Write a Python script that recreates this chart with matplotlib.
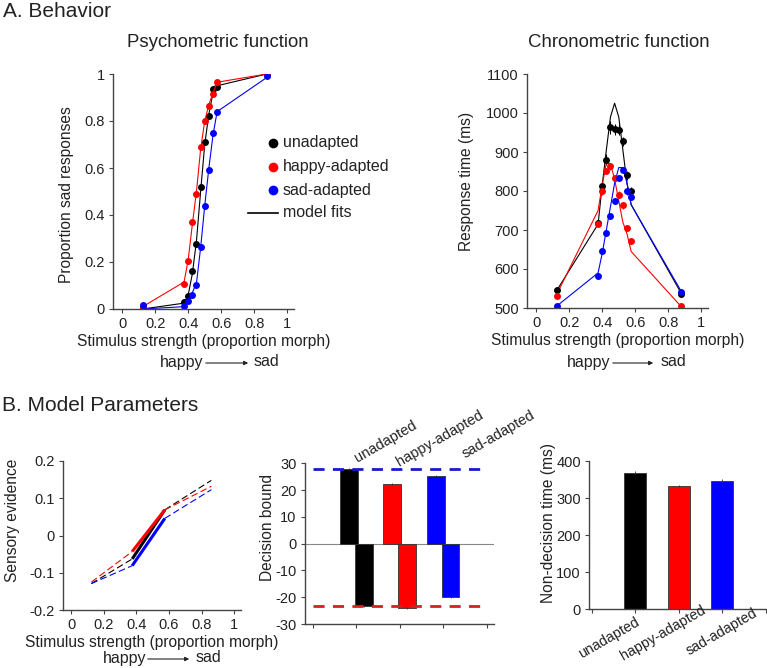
import matplotlib
matplotlib.use("Agg")
import matplotlib.pyplot as plt
from matplotlib.lines import Line2D
from matplotlib.patches import FancyArrowPatch
import numpy as np

plt.rcParams['font.family'] = ['Liberation Sans', 'DejaVu Sans']
plt.rcParams['axes.unicode_minus'] = False

# ---------------- data ----------------
conditions = ["unadapted", "happy-adapted", "sad-adapted"]
colors = ["#000000", "#ff0000", "#0000ff"]

stim_levels = [0.125, 0.375, 0.4, 0.425, 0.45, 0.475, 0.5, 0.525, 0.55, 0.575, 0.875]

# psychometric data (proportion sad)
psy_unadapted = [0.005, 0.03, 0.055, 0.16, 0.277, 0.52, 0.71, 0.82, 0.935, 0.945, 1.0]
psy_happy = [0.01, 0.105, 0.205, 0.37, 0.49, 0.69, 0.80, 0.865, 0.915, 0.965, 1.0]
psy_sad = [0.015, 0.012, 0.035, 0.06, 0.10, 0.265, 0.44, 0.59, 0.75, 0.84, 0.99]
# psychometric model fits
psyfit_unadapted = [0.0, 0.025, 0.06, 0.15, 0.29, 0.50, 0.70, 0.83, 0.92, 0.95, 1.0]
psyfit_happy = [0.01, 0.115, 0.21, 0.36, 0.50, 0.68, 0.80, 0.87, 0.92, 0.965, 1.0]
psyfit_sad = [0.0, 0.01, 0.03, 0.07, 0.11, 0.26, 0.44, 0.60, 0.74, 0.84, 0.985]

# chronometric data (ms)
rt_unadapted = [545, 718, 814, 880, 963, 958, 957, 927, 840, 800, 537]
rt_happy = [530, 715, 799, 851, 864, 834, 791, 763, 704, 672, 505]
rt_sad = [505, 581, 647, 693, 736, 775, 834, 854, 799, 784, 542]
rt_err_unadapted = [6, 8, 12, 14, 16, 14, 14, 12, 12, 10, 6]
rt_err_happy = [5, 6, 8, 8, 9, 8, 8, 8, 7, 7, 5]
rt_err_sad = [5, 6, 7, 8, 8, 8, 8, 8, 8, 7, 5]
# chronometric model fits
rtfit_unadapted = [545, 715, 815, 905, 990, 1025, 990, 905, 820, 765, 540]
rtfit_happy = [535, 750, 815, 872, 870, 830, 775, 720, 690, 645, 505]
rtfit_sad = [505, 590, 640, 700, 760, 820, 860, 860, 820, 765, 545]

# sensory evidence
se_x = [0.125, 0.375, 0.575, 0.86]
se_unadapted = [-0.129, -0.063, 0.069, 0.148]
se_happy = [-0.125, -0.043, 0.069, 0.132]
se_sad = [-0.129, -0.081, 0.046, 0.123]

# decision bounds
bound_upper = [27.8, 22.3, 25.2]
bound_lower = [-23.3, -23.9, -19.9]
bound_upper_err = [0.4, 0.4, 0.5]
bound_lower_err = [0.4, 0.4, 0.4]
ref_upper = 27.8
ref_lower = -23.1

# non-decision time
ndt = [368, 333, 347]
ndt_err = [4, 3, 4]

# ---------------- figure ----------------
W, H = 767, 668
fig = plt.figure(figsize=(W / 100, H / 100), dpi=100)

def ax_px(l, r, t, b):
    return fig.add_axes([l / W, 1 - b / H, (r - l) / W, (b - t) / H])

TXT = "#222222"
SP = "#444444"
LBL = 11.2

def style(ax):
    for s in ["top", "right"]:
        ax.spines[s].set_visible(False)
    for s in ["left", "bottom"]:
        ax.spines[s].set_color(SP)
        ax.spines[s].set_linewidth(1.0)
    ax.tick_params(direction="out", length=3, width=0.8, colors=SP, labelcolor=TXT,
                   labelsize=10.5, pad=3)
    ax.patch.set_alpha(0)

def fmt(v):
    return "%g" % round(v, 3)

def ylabel_at(ax, text, xcenter, ax_left, ax_right, yfrac=0.5):
    # y-label anchor is its right edge (rotated 'bottom'); shift by half text height
    ax.set_ylabel(text, fontsize=LBL, color=TXT)
    ax.yaxis.set_label_coords((xcenter + 7.5 - ax_left) / (ax_right - ax_left), yfrac)

fig.text(3 / W, 1 - 17 / H, "A. Behavior", fontsize=15, color=TXT, va="baseline", ha="left")
fig.text(2 / W, 1 - 411 / H, "B. Model Parameters", fontsize=15, color=TXT, va="baseline", ha="left")
fig.text(217.5 / W, 1 - 46.7 / H, "Psychometric function", fontsize=13.4, color=TXT,
         va="baseline", ha="center")
fig.text(619 / W, 1 - 46.7 / H, "Chronometric function", fontsize=13.4, color=TXT,
         va="baseline", ha="center")

psy_data = [psy_unadapted, psy_happy, psy_sad]
psy_fit = [psyfit_unadapted, psyfit_happy, psyfit_sad]
rt_data = [rt_unadapted, rt_happy, rt_sad]
rt_err = [rt_err_unadapted, rt_err_happy, rt_err_sad]
rt_fit = [rtfit_unadapted, rtfit_happy, rtfit_sad]
se_data = [se_unadapted, se_happy, se_sad]

xt = [0, 0.2, 0.4, 0.6, 0.8, 1]

def happy_sad(xc_left, xc_right, y):
    fig.text(xc_left / W, 1 - y / H, "happy", fontsize=11.5, color=TXT, ha="left", va="center")
    fig.text(xc_right / W, 1 - y / H, "sad", fontsize=11.5, color=TXT, ha="right", va="center")

def arrow(x0, x1, y):
    a = FancyArrowPatch((x0 / W, 1 - y / H), (x1 / W, 1 - y / H), transform=fig.transFigure,
                        arrowstyle="-|>", mutation_scale=6, lw=0.8, color=TXT)
    fig.add_artist(a)

# ---- psychometric ----
L1, R1 = 113, 294
ax1 = ax_px(L1, R1, 74, 309)
style(ax1)
for d, f, c in zip(psy_data, psy_fit, colors):
    ax1.plot(stim_levels, f, color=c, lw=0.8)
    ax1.plot(stim_levels, d, "o", color=c, ms=5, mec="none")
ax1.set_xlim(-0.055, 1.04)
ax1.set_ylim(0, 1)
ax1.set_xticks(xt)
ax1.set_xticklabels([fmt(v) for v in xt])
ax1.set_yticks([0, 0.2, 0.4, 0.6, 0.8, 1])
ax1.set_yticklabels([fmt(v) for v in [0, 0.2, 0.4, 0.6, 0.8, 1]])
ax1.set_xlabel("Stimulus strength (proportion morph)", fontsize=LBL, color=TXT, labelpad=2)
ylabel_at(ax1, "Proportion sad responses", 67, L1, R1, 0.485)
happy_sad(160, 279, 362)
arrow(203, 251, 363)

# legend (manual)
leg_rows = [143, 167, 190, 213]
for lab, c, y in zip(conditions, colors, leg_rows[:3]):
    fig.add_artist(Line2D([273 / W], [1 - y / H], marker="o", color=c, ms=7, mec="none",
                          transform=fig.transFigure))
    fig.text(283 / W, 1 - y / H, lab, fontsize=11.5, color=TXT, va="center", ha="left")
fig.add_artist(Line2D([248 / W, 278 / W], [1 - 213 / H, 1 - 213 / H], color="black", lw=1.2,
                      transform=fig.transFigure))
fig.text(283 / W, 1 - 213 / H, "model fits", fontsize=11.5, color=TXT, va="center", ha="left")

# ---- chronometric ----
L2, R2 = 527, 708
ax2 = ax_px(L2, R2, 74, 308)
style(ax2)
for d, e, f, c in zip(rt_data, rt_err, rt_fit, colors):
    ax2.plot(stim_levels, f, color=c, lw=0.8)
    ax2.errorbar(stim_levels, d, yerr=e, fmt="o", color=c, ms=5, mec="none", elinewidth=0.8,
                 capsize=0)
ax2.set_xlim(-0.055, 1.04)
ax2.set_ylim(500, 1100)
ax2.set_xticks(xt)
ax2.set_xticklabels([fmt(v) for v in xt])
ax2.set_yticks(np.arange(500, 1101, 100))
ax2.set_xlabel("Stimulus strength (proportion morph)", fontsize=LBL, color=TXT, labelpad=2)
ylabel_at(ax2, "Response time (ms)", 467, L2, R2, 0.543)
happy_sad(567, 686, 362)
arrow(610, 656, 363)

# ---- sensory evidence ----
L3, R3 = 62.7, 240.7
ax3 = ax_px(L3, R3, 461, 610)
style(ax3)
for d, c in zip(se_data, colors):
    ax3.plot(se_x[0:2], d[0:2], color=c, lw=0.8, ls=(0, (6, 3)))
    ax3.plot(se_x[1:3], d[1:3], color=c, lw=2.2, solid_capstyle="butt")
    ax3.plot(se_x[2:4], d[2:4], color=c, lw=0.8, ls=(0, (6, 3)))
ax3.set_xlim(-0.051, 1.04)
ax3.set_ylim(-0.2, 0.2)
ax3.set_xticks(xt)
ax3.set_xticklabels([fmt(v) for v in xt])
yt3 = [-0.2, -0.1, 0, 0.1, 0.2]
ax3.set_yticks(yt3)
ax3.set_yticklabels([fmt(v) for v in yt3])
ax3.set_xlabel("Stimulus strength (proportion morph)", fontsize=LBL, color=TXT, labelpad=2)
ylabel_at(ax3, "Sensory evidence", 12, L3, R3, 0.60)
happy_sad(103, 221, 658)
arrow(145, 192, 659)

# ---- decision bound ----
L4, R4 = 305, 494
ax4 = ax_px(L4, R4, 463.3, 624)
style(ax4)
ax4.axhline(0, color="#888888", lw=0.8, zorder=1)
pos_up = np.arange(3) + 0.83
pos_lo = np.arange(3) + 1.17
ax4.bar(pos_up, bound_upper, width=0.41, color=colors, edgecolor="#333333", lw=0.6, zorder=2)
ax4.bar(pos_lo, bound_lower, width=0.41, color=colors, edgecolor="#333333", lw=0.6, zorder=2)
ax4.errorbar(pos_up, bound_upper, yerr=bound_upper_err, fmt="none", ecolor="#333333",
             elinewidth=0.6, zorder=3)
ax4.errorbar(pos_lo, bound_lower, yerr=bound_lower_err, fmt="none", ecolor="#333333",
             elinewidth=0.6, zorder=3)
ax4.plot([0, 4], [ref_upper, ref_upper], color="#1a1acc", lw=2, ls=(0, (4, 3)), zorder=4)
ax4.plot([0, 4], [ref_lower, ref_lower], color="#d42020", lw=2, ls=(0, (4, 3)), zorder=4)
ax4.set_xlim(-0.18, 4.17)
ax4.set_ylim(-30, 30)
ax4.set_xticks([0, 1, 2, 3, 4])
ax4.set_xticklabels([])
ax4.set_yticks(np.arange(-30, 31, 10))
ylabel_at(ax4, "Decision bound", 267, L4, R4, 0.60)
top_lab_x = [1.02, 1.99, 3.5]
top_lab_y = [30.5, 29.0, 31.9]
for lab, x, y in zip(conditions, top_lab_x, top_lab_y):
    ax4.text(x, y, lab, fontsize=10.5, color=TXT, rotation=30, rotation_mode="anchor",
             ha="left", va="baseline", clip_on=False)

# ---- non-decision time ----
L5, R5 = 589.3, 766.5
ax5 = ax_px(L5, R5, 461, 609.3)
style(ax5)
ax5.bar([1, 2, 3], ndt, width=0.5, color=colors, edgecolor="#333333", lw=0.6, zorder=2)
ax5.errorbar([1, 2, 3], ndt, yerr=ndt_err, fmt="none", ecolor="#333333", elinewidth=0.6,
             zorder=3)
ax5.set_xlim(-0.055, 4.02)
ax5.set_ylim(0, 400)
ax5.set_xticks([0, 1, 2, 3, 4])
ax5.set_xticklabels([])
ax5.set_yticks(np.arange(0, 401, 100))
ylabel_at(ax5, "Non-decision time (ms)", 548, L5, R5, 0.58)
# rotated category labels below the axis (baseline-left anchor points, pixels)
bot_lab_px = [(582, 658), (624, 660), (689, 655)]
for lab, (px, py) in zip(conditions, bot_lab_px):
    fig.text(px / W, 1 - py / H, lab, fontsize=10.3, color=TXT, rotation=30,
             rotation_mode="anchor", ha="left", va="baseline")

fig.savefig("out.png", dpi=100)
